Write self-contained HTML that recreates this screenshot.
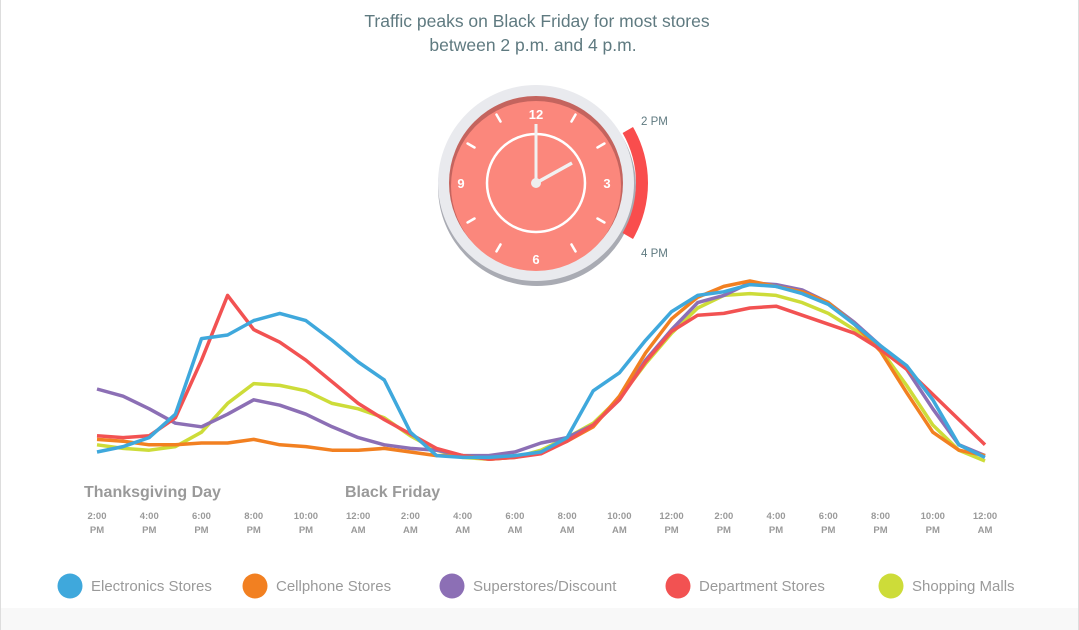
<!DOCTYPE html>
<html><head><meta charset="utf-8"><style>
body{margin:0;background:#fff;font-family:"Liberation Sans",sans-serif;}
#wrap{position:relative;width:1079px;height:630px;overflow:hidden;background:#fff;border-left:1px solid #ddd;border-right:1px solid #ddd;box-sizing:border-box}
</style></head><body>
<div id="wrap">
<svg id="chart" width="1079" height="630">
<rect x="0" y="608" width="1079" height="22" fill="#f8f8f8"/>
<text x="536" y="27" text-anchor="middle" font-size="17.5" fill="#5f7a80">Traffic peaks on Black Friday for most stores</text>
<text x="532" y="51" text-anchor="middle" font-size="17.5" fill="#5f7a80">between 2 p.m. and 4 p.m.</text>
<g id="clock">
<circle cx="536" cy="187" r="99" fill="#a9abb3"/>
<circle cx="535" cy="183" r="98" fill="#e9eaee"/>
<circle cx="535" cy="183" r="87" fill="#c4645e"/>
<circle cx="535" cy="186" r="85" fill="#fb877c"/>
<circle cx="535" cy="183" r="49" fill="none" stroke="#fff" stroke-width="2.5"/>
<path id="arc" fill="#f94d4d"/>
<g id="ticks" stroke="#fff" stroke-width="2.5" stroke-linecap="round"></g>
<text x="535" y="119" text-anchor="middle" font-size="13" font-weight="bold" fill="#fff">12</text>
<text x="606" y="188" text-anchor="middle" font-size="13" font-weight="bold" fill="#fff">3</text>
<text x="535" y="264" text-anchor="middle" font-size="13" font-weight="bold" fill="#fff">6</text>
<text x="460" y="188" text-anchor="middle" font-size="13" font-weight="bold" fill="#fff">9</text>
<line x1="535" y1="183" x2="535" y2="124" stroke="#f1f1f1" stroke-width="3"/>
<line x1="535" y1="183" x2="571" y2="163" stroke="#f1f1f1" stroke-width="3.5"/>
<circle cx="535" cy="183" r="5" fill="#eee"/>
<text x="640" y="125" font-size="11.5" fill="#5f7a80">2 PM</text>
<text x="640" y="257" font-size="11.5" fill="#5f7a80">4 PM</text>
</g>
<g id="lines"></g>
<text x="83" y="497" font-size="16" font-weight="bold" fill="#9a9a9a">Thanksgiving Day</text>
<text x="344" y="497" font-size="16" font-weight="bold" fill="#9a9a9a">Black Friday</text>
<g id="xticks"></g>
<g id="legend"></g>
</svg>
</div>
<script>
const categories = ["2 PM","3 PM","4 PM","5 PM","6 PM","7 PM","8 PM","9 PM","10 PM","11 PM","12 AM","1 AM","2 AM","3 AM","4 AM","5 AM","6 AM","7 AM","8 AM","9 AM","10 AM","11 AM","12 PM","1 PM","2 PM","3 PM","4 PM","5 PM","6 PM","7 PM","8 PM","9 PM","10 PM","11 PM","12 AM"];
const electronics = [10,13,18,31,73,75,83,87,83,72,60,50,21,8,7,7,8,10,18,44,54,72,88,97,99,103,102,98,92,81,69,58,39,14,7];
const cellphone = [17,16,14,14,15,15,17,14,13,11,11,12,10,8,8,6,7,10,16,24,41,65,84,96,102,105,102,99,93,81,66,43,21,11,8];
const superstores = [45,41,34,26,24,31,39,36,31,24,18,14,12,11,8,8,10,15,18,25,39,61,78,93,97,104,103,100,93,82,69,56,34,14,8];
const department = [19,18,19,29,61,97,78,71,61,49,37,28,20,12,8,6,7,9,16,25,39,60,77,86,87,90,91,86,81,76,67,56,42,28,14];
const malls = [14,12,11,13,21,37,48,47,44,37,34,29,19,11,7,6,7,11,18,26,40,59,76,90,97,98,97,93,87,78,67,47,25,11,5];
const xTickLabels = [["2:00","PM"],["4:00","PM"],["6:00","PM"],["8:00","PM"],["10:00","PM"],["12:00","AM"],["2:00","AM"],["4:00","AM"],["6:00","AM"],["8:00","AM"],["10:00","AM"],["12:00","PM"],["2:00","PM"],["4:00","PM"],["6:00","PM"],["8:00","PM"],["10:00","PM"],["12:00","AM"]];
const seriesNames = ["Electronics Stores","Cellphone Stores","Superstores/Discount","Department Stores","Shopping Malls"];
const seriesColors = ["#3fa8dc","#f28021","#8c6fb5","#f25252","#cddc39"];
const seriesData = [electronics,cellphone,superstores,department,malls];

const NS="http://www.w3.org/2000/svg";
const xScale = i => 96 + i*(888/(categories.length-1));
const yScale = v => 470 - v*1.8;
function mk(tag, attrs, parent){const e=document.createElementNS(NS,tag);for(const k in attrs)e.setAttribute(k,attrs[k]);parent.appendChild(e);return e;}

const tg=document.getElementById('ticks');
for(let h=0;h<12;h++){ if(h%3===0)continue; const a=h*Math.PI/6;
  const s=Math.sin(a),c=-Math.cos(a);
  const t=mk('line',{x1:535+s*71,y1:183+c*71,x2:535+s*79,y2:183+c*79},tg);
  
  
}
(function(){const r1=100,r2=112,a1=Math.PI/3,a2=2*Math.PI/3;
 const p=(r,a)=>[535+r*Math.sin(a),183-r*Math.cos(a)];
 const [x1,y1]=p(r1,a1),[x2,y2]=p(r2,a1),[x3,y3]=p(r2,a2),[x4,y4]=p(r1,a2);
 document.getElementById('arc').setAttribute('d',`M${x1} ${y1}L${x2} ${y2}A${r2} ${r2} 0 0 1 ${x3} ${y3}L${x4} ${y4}A${r1} ${r1} 0 0 0 ${x1} ${y1}Z`);})();

const lg=document.getElementById('lines');
const order=[4,2,1,3,0];
order.forEach(si=>{
  const d=seriesData[si].map((v,i)=>(i?'L':'M')+xScale(i).toFixed(1)+' '+yScale(v).toFixed(1)).join('');
  const p=mk('path',{d:d,fill:'none',stroke:seriesColors[si],'stroke-width':3.5,'stroke-linejoin':'round'},lg);
  
  
});

const xg=document.getElementById('xticks');
xTickLabels.forEach((lab,j)=>{
  const x=xScale(j*2);
  const t1=mk('text',{x:x,y:519,'text-anchor':'middle','font-size':9.5,'font-weight':'bold',fill:'#9a9a9a'},xg);
  t1.textContent=lab[0];
  
  
  const t2=mk('text',{x:x,y:533,'text-anchor':'middle','font-size':9.5,'font-weight':'bold',fill:'#9a9a9a'},xg);
  t2.textContent=lab[1];
  
  
});

const lgd=document.getElementById('legend');
const lx=[69,254,451,677,890];
seriesNames.forEach((n,i)=>{
  const g=mk('g',{},lgd);
  
  
  mk('circle',{cx:lx[i],cy:586,r:12.5,fill:seriesColors[i]},g);
  const t=mk('text',{x:lx[i]+21,y:591,'font-size':15,fill:'#9a9a9a'},g);
  t.textContent=n;
});
</script>
</body></html>
